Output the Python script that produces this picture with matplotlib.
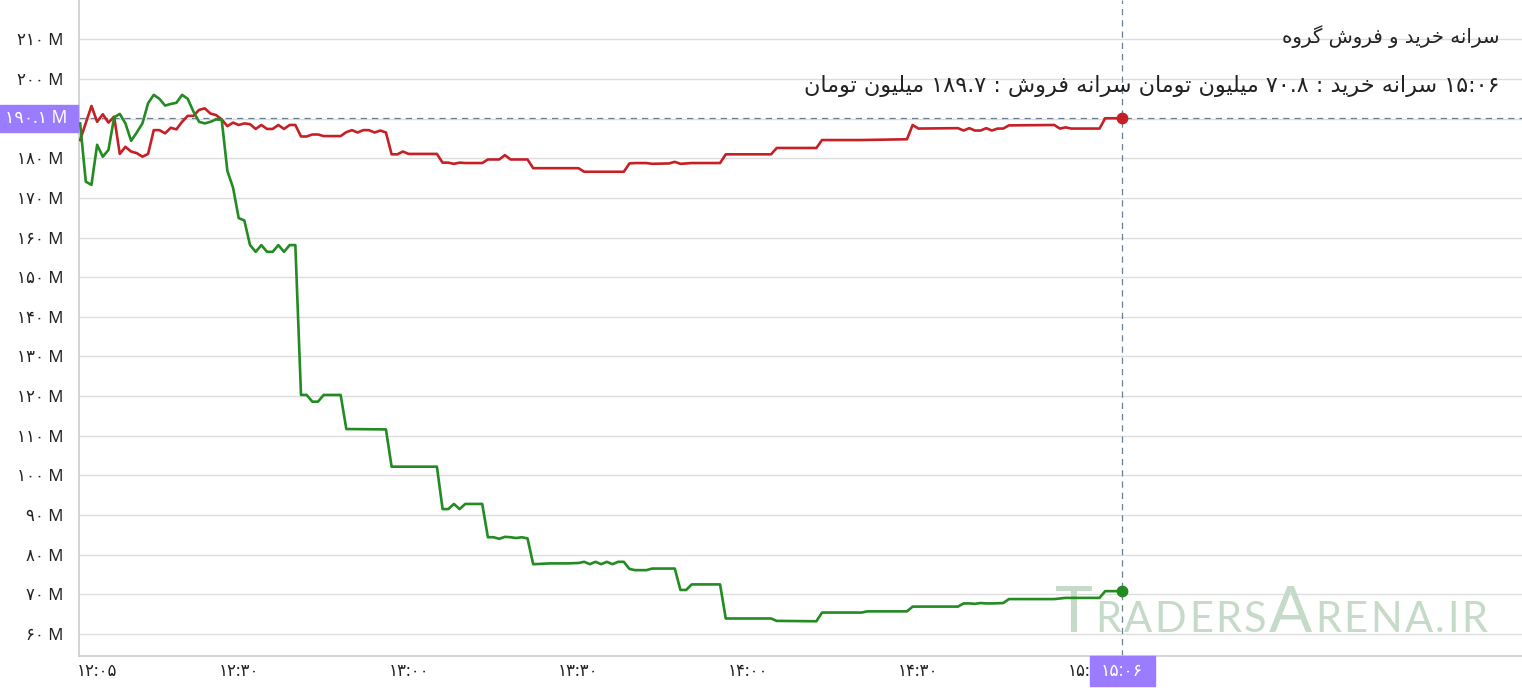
import numpy as np
import matplotlib
matplotlib.use("Agg")
import matplotlib.pyplot as plt
from matplotlib.patches import Rectangle
from matplotlib.transforms import IdentityTransform

# ================================
#  داده‌ها (میلیون تومان)
# ================================
buy_times = ["12:02", "12:03", "12:04", "12:05", "12:06", "12:07", "12:08", "12:09", "12:10", "12:11",
             "12:12", "12:13", "12:14", "12:15", "12:16", "12:17", "12:18", "12:19", "12:20", "12:21",
             "12:22", "12:23", "12:24", "12:25", "12:26", "12:27", "12:28", "12:29", "12:30", "12:31",
             "12:32", "12:33", "12:34", "12:35", "12:36", "12:37", "12:38", "12:39", "12:40", "12:41",
             "12:42", "12:43", "12:44", "12:45", "12:48", "12:49", "12:56", "12:57", "13:05", "13:06",
             "13:07", "13:08", "13:09", "13:10", "13:13", "13:14", "13:15", "13:16", "13:17", "13:18",
             "13:19", "13:20", "13:21", "13:22", "13:25", "13:28", "13:30", "13:31", "13:32", "13:33",
             "13:34", "13:35", "13:36", "13:37", "13:38", "13:39", "13:40", "13:42", "13:43", "13:47",
             "13:48", "13:49", "13:50", "13:55", "13:56", "14:04", "14:05", "14:12", "14:13", "14:20",
             "14:21", "14:28", "14:29", "14:37", "14:38", "14:39", "14:40", "14:41", "14:42", "14:43",
             "14:45", "14:46", "14:54", "14:56", "15:02", "15:03", "15:04", "15:06"]
buy_vals = [188.8, 174.1, 173.3, 183.4, 180.4, 182.1, 190.3, 191.2, 188.8, 184.4,
            186.5, 188.8, 193.9, 196.0, 195.0, 193.3, 193.7, 194.0, 196.0, 195.0,
            191.8, 189.2, 188.8, 189.2, 189.8, 189.7, 176.8, 172.6, 164.9, 164.3,
            158.1, 156.4, 158.1, 156.4, 156.4, 158.1, 156.4, 158.1, 158.1, 120.3,
            120.3, 118.6, 118.6, 120.3, 120.3, 111.7, 111.6, 102.2, 102.2, 91.5,
            91.5, 92.8, 91.5, 92.8, 92.8, 84.4, 84.4, 84.0, 84.5, 84.4,
            84.2, 84.4, 84.1, 77.6, 77.8, 77.8, 77.9, 78.2, 77.6, 78.2,
            77.6, 78.2, 77.6, 78.2, 78.2, 76.4, 76.1, 76.1, 76.5, 76.5,
            71.1, 71.1, 72.5, 72.5, 63.9, 63.9, 63.3, 63.2, 65.4, 65.4,
            65.7, 65.7, 66.9, 66.9, 67.7, 67.7, 67.6, 67.8, 67.7, 67.7,
            67.8, 68.8, 68.8, 69.1, 69.1, 70.8, 70.8, 70.8]

sell_times = ["12:02", "12:04", "12:05", "12:06", "12:07", "12:08", "12:09", "12:10", "12:11", "12:12",
              "12:13", "12:14", "12:15", "12:16", "12:17", "12:18", "12:19", "12:20", "12:21", "12:22",
              "12:23", "12:24", "12:25", "12:26", "12:27", "12:28", "12:29", "12:30", "12:31", "12:32",
              "12:33", "12:34", "12:35", "12:36", "12:37", "12:38", "12:39", "12:40", "12:41", "12:42",
              "12:43", "12:44", "12:45", "12:48", "12:49", "12:50", "12:51", "12:52", "12:53", "12:54",
              "12:55", "12:56", "12:57", "12:58", "12:59", "13:00", "13:05", "13:06", "13:07", "13:08",
              "13:09", "13:10", "13:13", "13:14", "13:16", "13:17", "13:18", "13:21", "13:22", "13:30",
              "13:31", "13:38", "13:39", "13:40", "13:42", "13:43", "13:46", "13:47", "13:48", "13:50",
              "13:55", "13:56", "14:04", "14:05", "14:12", "14:13", "14:20", "14:28", "14:29", "14:30",
              "14:37", "14:38", "14:39", "14:40", "14:41", "14:42", "14:43", "14:44", "14:45", "14:46",
              "14:54", "14:55", "14:56", "14:57", "15:02", "15:03", "15:04", "15:06"]
sell_vals = [184.6, 193.2, 189.2, 191.1, 189.0, 190.5, 181.1, 182.9, 181.7, 181.3,
             180.4, 181.1, 187.1, 187.1, 186.3, 187.7, 187.3, 189.2, 190.7, 190.7,
             192.2, 192.6, 191.3, 190.9, 189.8, 188.1, 189.0, 188.4, 188.8, 188.6,
             187.4, 188.4, 187.4, 187.4, 188.4, 187.4, 188.4, 188.4, 185.5, 185.5,
             186.0, 186.0, 185.6, 185.6, 186.6, 187.1, 186.5, 187.1, 187.1, 186.5,
             187.0, 186.5, 181.0, 181.0, 181.7, 181.1, 181.1, 178.9, 178.9, 178.6,
             178.9, 178.8, 178.8, 179.7, 179.7, 180.8, 179.7, 179.7, 177.5, 177.5,
             176.6, 176.6, 178.7, 178.8, 178.8, 178.6, 178.7, 179.1, 178.6, 178.8,
             178.8, 181.0, 181.0, 182.6, 182.6, 184.6, 184.6, 184.8, 188.4, 187.5,
             187.6, 187.0, 187.6, 187.0, 187.0, 187.6, 187.0, 187.5, 187.5, 188.3,
             188.4, 187.5, 187.8, 187.5, 187.5, 190.1, 190.1, 190.1]

y_ticks = [60, 70, 80, 90, 100, 110, 120, 130, 140, 150, 160, 170, 180, 190, 200, 210]
x_ticks = ["12:05", "12:30", "13:00", "13:30", "14:00", "14:30", "15:00"]

title_1 = "سرانه خرید و فروش گروه"
title_2 = "۱۵:۰۶ سرانه خرید : ۷۰.۸ میلیون تومان سرانه فروش : ۱۸۹.۷ میلیون تومان"
watermark = "TRADERSARENA.IR"

# ================================
#  شکل‌دهی حروف فارسی (matplotlib خودش RTL نمی‌کند)
# ================================
FORMS = {  # isolated, final, initial, medial
    "ا": ("\uFE8D", "\uFE8E", None, None),
    "د": ("\uFEA9", "\uFEAA", None, None),
    "ر": ("\uFEAD", "\uFEAE", None, None),
    "و": ("\uFEED", "\uFEEE", None, None),
    "ت": ("\uFE95", "\uFE96", "\uFE97", "\uFE98"),
    "خ": ("\uFEA5", "\uFEA6", "\uFEA7", "\uFEA8"),
    "س": ("\uFEB1", "\uFEB2", "\uFEB3", "\uFEB4"),
    "ش": ("\uFEB5", "\uFEB6", "\uFEB7", "\uFEB8"),
    "ف": ("\uFED1", "\uFED2", "\uFED3", "\uFED4"),
    "ل": ("\uFEDD", "\uFEDE", "\uFEDF", "\uFEE0"),
    "م": ("\uFEE1", "\uFEE2", "\uFEE3", "\uFEE4"),
    "ن": ("\uFEE5", "\uFEE6", "\uFEE7", "\uFEE8"),
    "ه": ("\uFEE9", "\uFEEA", "\uFEEB", "\uFEEC"),
    "ی": ("\uFBFC", "\uFBFD", "\uFBFE", "\uFBFF"),
    "گ": ("\uFB92", "\uFB93", "\uFB94", "\uFB95"),
}


def shape_word(word):
    out = []
    for i, ch in enumerate(word):
        if ch not in FORMS:
            out.append(ch)
            continue
        prev = word[i - 1] if i > 0 else None
        nxt = word[i + 1] if i + 1 < len(word) else None
        jp = prev in FORMS and FORMS[prev][2] is not None
        jn = FORMS[ch][2] is not None and nxt in FORMS
        if jp and jn:
            out.append(FORMS[ch][3])
        elif jp:
            out.append(FORMS[ch][1])
        elif jn:
            out.append(FORMS[ch][2])
        else:
            out.append(FORMS[ch][0])
    return "".join(out)


def rtl(text):
    res = []
    for tok in text.split(" ")[::-1]:
        if any(c in FORMS for c in tok):
            res.append(shape_word(tok)[::-1])
        else:
            res.append(tok)
    return " ".join(res)


FA_DIGITS = str.maketrans("0123456789", "۰۱۲۳۴۵۶۷۸۹")


def fa(s):
    return str(s).translate(FA_DIGITS)


def to_min(hm):
    h, m = hm.split(":")
    return int(h) * 60 + int(m)


bt = np.array([to_min(s) for s in buy_times])
st = np.array([to_min(s) for s in sell_times])
bv = np.array(buy_vals)
sv = np.array(sell_vals)

# ================================
#  رسم
# ================================
W, H = 1522, 688
FAM = ["Noto Sans", "DejaVu Sans"]
plt.rcParams["font.family"] = FAM

fig = plt.figure(figsize=(W / 100, H / 100), dpi=100)
ax = fig.add_axes([79 / W, 32 / H, 1 - 79 / W, 656 / H])

RED = "#c62026"
GREEN = "#228b22"
PURPLE = "#9b7cff"
CROSS = "#6b7f92"

ax.plot(st, sv, color=RED, lw=1.9, zorder=3, solid_joinstyle="round")
ax.plot(bt, bv, color=GREEN, lw=1.9, zorder=3, solid_joinstyle="round")
ax.plot(st[-1], sv[-1], "o", color=RED, ms=7.5, zorder=4)
ax.plot(bt[-1], bv[-1], "o", color=GREEN, ms=7.5, zorder=4)

ax.axhline(sv[-1], color=CROSS, lw=0.9, ls=(0, (5, 4)), zorder=2)
ax.axvline(st[-1], color=CROSS, lw=0.9, ls=(0, (5, 4)), zorder=2)

ax.set_xlim(721.8, 976.6)
ax.set_ylim(54.44, 219.93)

# برچسب ۱۹۰ زیر برچسب بنفش پنهان است
ax.set_yticks(y_ticks)
ax.set_yticklabels(["" if v == 190 else fa(v) + " M" for v in y_ticks])
ax.set_xticks([to_min(s) for s in x_ticks])
ax.set_xticklabels([fa(s) for s in x_ticks])
ax.tick_params(axis="both", length=0, labelsize=12, colors="#222222")
ax.tick_params(axis="y", pad=11)
ax.tick_params(axis="x", pad=6)

ax.grid(True, axis="y", color="#dddddd", lw=1, zorder=0)
ax.set_axisbelow(True)
for s in ["top", "right"]:
    ax.spines[s].set_visible(False)
for s in ["left", "bottom"]:
    ax.spines[s].set_color("#cccccc")
    ax.spines[s].set_linewidth(1.2)

# عنوان‌ها
fig.text(1500 / W, 1 - 37 / H, rtl(title_1), ha="right", va="center",
         fontsize=14.2, color="#222222", family=["DejaVu Sans"])
fig.text(1500 / W, 1 - 86 / H, rtl(title_2), ha="right", va="center",
         fontsize=16, color="#222222", family=["DejaVu Sans"])

# برچسب‌های بنفش
px_y = ax.transData.transform((st[-1], sv[-1]))
ax.add_patch(Rectangle((0, px_y[1] - 13.5), 78, 27, transform=IdentityTransform(),
                       color=PURPLE, clip_on=False, zorder=5))
ax.text(67, px_y[1], fa("%.1f" % sv[-1]) + " M", transform=IdentityTransform(),
        ha="right", va="center", color="white", fontsize=12.5,
        zorder=6, clip_on=False)
ax.add_patch(Rectangle((px_y[0] - 32, H - 686), 65, 30, transform=IdentityTransform(),
                       color=PURPLE, clip_on=False, zorder=5))
ax.text(px_y[0], H - 671, fa(sell_times[-1]), transform=IdentityTransform(),
        ha="center", va="center", color="white", fontsize=12.5,
        zorder=6, clip_on=False)

# واترمارک (حروف T و A بزرگ‌تر)
renderer = fig.canvas.get_renderer()
wx = 1055
for i, ch in enumerate(watermark):
    size = 46 if i in (0, 7) else 30
    t = ax.text(wx, H - 632, ch, transform=IdentityTransform(), ha="left", va="baseline",
                fontsize=size, color="#c5dac8", family=["Lato", "DejaVu Sans"], zorder=1,
                clip_on=False)
    wx += t.get_window_extent(renderer).width + 2.6

fig.savefig("out.png", dpi=100)
